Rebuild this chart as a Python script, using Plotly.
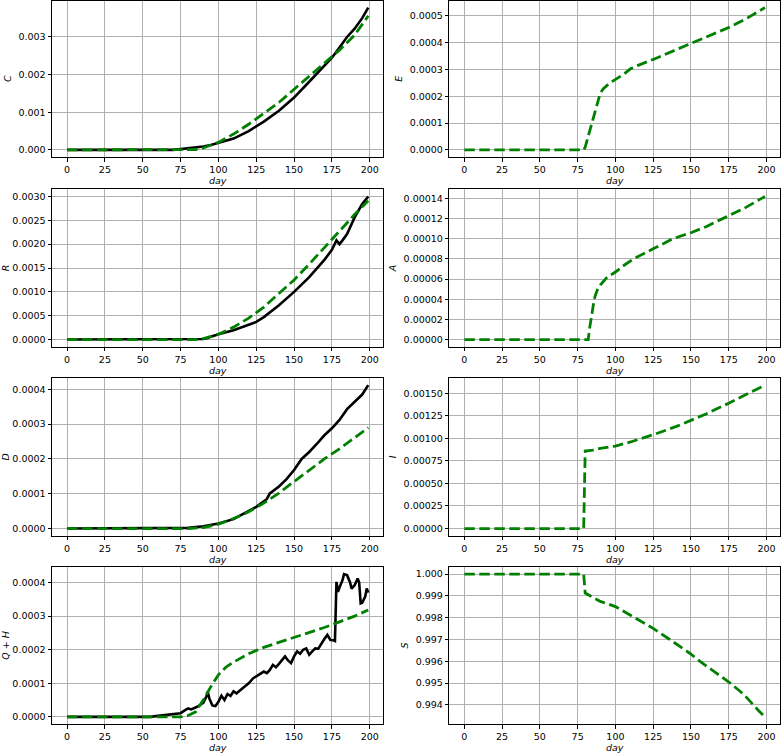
import plotly.graph_objects as go
from plotly.subplots import make_subplots

# ---------------- data ----------------
C_black_days = [0, 70, 75, 80, 85, 90, 95, 100, 110, 120, 130, 140, 150, 160, 170, 175, 180, 185, 190, 195, 199]
C_black = [0, 0, 0.00002, 0.00004, 0.00006, 0.00009, 0.00013, 0.00018, 0.0003, 0.0005, 0.00075, 0.00104,
           0.00139, 0.00181, 0.00225, 0.00245, 0.00272, 0.003, 0.00322, 0.0035, 0.00378]
C_green_days = [0, 80, 85, 90, 95, 100, 110, 120, 130, 140, 150, 160, 170, 180, 190, 199]
C_green = [0, 0, 0.00001, 0.00005, 0.00012, 0.0002, 0.00042, 0.00068, 0.00097, 0.00126, 0.00161, 0.00195,
           0.00229, 0.00265, 0.00305, 0.00356]

R_black_days = [0, 85, 90, 93, 95, 100, 110, 120, 125, 130, 140, 150, 160, 170, 175, 178, 180, 182, 185, 190, 195, 199]
R_black = [0, 0.000005, 0.00001, 0.00003, 0.00006, 0.00011, 0.000195, 0.00031, 0.00037, 0.00047, 0.00072, 0.001,
           0.00131, 0.00167, 0.00188, 0.00208, 0.002, 0.00208, 0.00221, 0.00256, 0.00284, 0.003]
R_green_days = [0, 85, 90, 95, 100, 110, 120, 130, 140, 150, 160, 170, 180, 190, 199]
R_green = [0, 0, 0.00002, 0.00006, 0.00011, 0.00026, 0.00045, 0.00068, 0.00096, 0.00125, 0.00158, 0.00193,
           0.00229, 0.00262, 0.00291]

D_black_days = [0, 75, 80, 90, 100, 110, 120, 125, 130, 132, 134, 136, 140, 145, 150, 155, 160, 165, 170, 175,
                180, 185, 190, 195, 199]
D_black = [0, 0, 0.000002, 0.0000067, 0.0000144, 0.000027, 0.000049, 0.0000623, 0.000078, 0.000085, 0.000101,
           0.000108, 0.000121, 0.000142, 0.000168, 0.0002, 0.00022, 0.000243, 0.000268, 0.000288, 0.000312,
           0.000343, 0.000364, 0.000385, 0.000412]
D_green_days = [0, 80, 90, 100, 110, 120, 130, 140, 150, 160, 170, 180, 190, 199]
D_green = [0, 0, 0.000003, 0.0000125, 0.000029, 0.000048, 0.000073, 0.000102, 0.000135, 0.000168, 0.0002,
           0.000229, 0.000262, 0.00029]

QH_black_days = [0, 55, 60, 65, 70, 73, 75, 78, 80, 82, 84, 86, 88, 90, 92, 93, 94, 96, 98, 100, 102, 104, 106,
                 108, 110, 112, 114, 116, 118, 120, 123, 125, 128, 130, 132, 134, 136, 138, 140, 142, 144, 146,
                 148, 150, 152, 154, 156, 158, 160, 162, 164, 166, 168, 170, 172, 174, 176, 177, 178, 179, 180,
                 181, 182, 183, 185, 187, 188, 190, 192, 193, 194, 195, 197, 198, 199]
QH_black = [0, 0, 0.000003, 0.000006, 0.00001, 0.000012, 0.000011, 0.00002, 0.000025, 0.000022, 0.000025,
            0.00003, 0.000036, 0.000042, 0.00006, 0.000074, 0.000055, 0.000034, 0.000032, 0.000045, 0.000063,
            0.00005, 0.000068, 0.000062, 0.000076, 0.00007, 0.000078, 0.000085, 0.000092, 0.0001, 0.000115,
            0.00012, 0.000128, 0.000135, 0.00013, 0.00014, 0.000155, 0.000148, 0.000158, 0.00017, 0.00018,
            0.000168, 0.00016, 0.00018, 0.000195, 0.000188, 0.0002, 0.000204, 0.000185, 0.000195, 0.000204,
            0.000203, 0.000219, 0.000232, 0.000244, 0.000229, 0.000228, 0.000226, 0.000402, 0.000372, 0.000385,
            0.000395, 0.000407, 0.000425, 0.000422, 0.0004, 0.000382, 0.000392, 0.000412, 0.0004, 0.000338,
            0.00034, 0.000358, 0.000382, 0.00037]
QH_green_days = [0, 75, 80, 85, 90, 95, 100, 105, 110, 120, 130, 140, 150, 160, 170, 180, 190, 199]
QH_green = [0, 0, 0.000004, 0.000015, 0.00005, 0.00009, 0.000125, 0.000148, 0.000163, 0.000188, 0.000207,
            0.000222, 0.000236, 0.00025, 0.000266, 0.000283, 0.0003, 0.000318]

E_green_days = [0, 79, 80, 81, 82, 83, 84, 85, 86, 87, 88, 89, 90, 92, 94, 96, 98, 100, 105, 110, 115, 125, 137,
                150, 162, 175, 187, 199]
E_green = [0, 0, 0.00001, 0.00003, 0.00005, 0.00008, 0.0001, 0.00012, 0.00014, 0.00016, 0.00018, 0.000197,
           0.000212, 0.000228, 0.000239, 0.000248, 0.000255, 0.000262, 0.00028, 0.000302, 0.000315, 0.000337,
           0.000365, 0.000397, 0.000425, 0.000456, 0.00049, 0.00053]

A_green_days = [0, 82, 83, 84, 85, 86, 87, 88, 90, 92, 94, 97, 100, 106, 112, 125, 138, 150, 160, 171, 185, 199]
A_green = [0, 0, 0.000012, 0.000023, 0.000032, 0.00004, 0.000045, 0.000049, 0.000054, 0.000058, 0.000061,
           0.000064, 0.000067, 0.000074, 0.00008, 0.00009, 0.0001, 0.000106, 0.000112, 0.00012, 0.00013, 0.000142]

I_green_days = [0, 79, 80, 85, 90, 100, 110, 125, 140, 150, 160, 175, 190, 199]
I_green = [0, 0, 0.00086, 0.00087, 0.00089, 0.000915, 0.00096, 0.00104, 0.00113, 0.0012, 0.00127, 0.00139,
           0.00152, 0.00159]

S_green_days = [0, 79, 80, 82, 90, 100, 113, 125, 136, 150, 156, 165, 176, 185, 191, 195, 199]
S_green = [1.0, 1.0, 0.99913, 0.99905, 0.99875, 0.99851, 0.998, 0.99751, 0.997, 0.99633, 0.996, 0.99555,
           0.995, 0.99448, 0.994, 0.99372, 0.99345]

# ---------------- figure ----------------
FONT = "DejaVu Sans"
GREEN = "#008000"

panels = [
    # row, col, ylabel, black (days, vals) or None, green (days, vals), tickformat, dtick
    (1, 1, "<i>C</i>", (C_black_days, C_black), (C_green_days, C_green), ".3f", 0.001),
    (2, 1, "<i>R</i>", (R_black_days, R_black), (R_green_days, R_green), ".4f", 0.0005),
    (3, 1, "<i>D</i>", (D_black_days, D_black), (D_green_days, D_green), ".4f", 0.0001),
    (4, 1, "<i>Q</i> + <i>H</i>", (QH_black_days, QH_black), (QH_green_days, QH_green), ".4f", 0.0001),
    (1, 2, "<i>E</i>", None, (E_green_days, E_green), ".4f", 0.0001),
    (2, 2, "<i>A</i>", None, (A_green_days, A_green), ".5f", 0.00002),
    (3, 2, "<i>I</i>", None, (I_green_days, I_green), ".5f", 0.00025),
    (4, 2, "<i>S</i>", None, (S_green_days, S_green), ".3f", 0.001),
]

fig = make_subplots(rows=4, cols=2)

W, H = 782, 753
ML, MR, MT, MB = 52, 2, 0, 29
PW, PH = W - ML - MR, H - MT - MB
col_px = {1: (52, 383.3), 2: (449.3, 780)}
row_px = {1: (0.5, 157), 2: (189.3, 346.7), 3: (378, 535.7), 4: (567, 724)}

for (r, c, ylab, blk, grn, tf, dt) in panels:
    vals = list(grn[1]) + (list(blk[1]) if blk else [])
    days = list(grn[0]) + (list(blk[0]) if blk else [])
    lo, hi = min(vals), max(vals)
    pad = 0.05 * (hi - lo)
    dlo, dhi = min(days), max(days)
    dpad = 0.05 * (dhi - dlo)
    if blk:
        fig.add_trace(go.Scatter(x=blk[0], y=blk[1], mode="lines",
                                 line=dict(color="black", width=2.6)), row=r, col=c)
    fig.add_trace(go.Scatter(x=grn[0], y=grn[1], mode="lines",
                             line=dict(color=GREEN, width=2.8, dash="10.5px,4.5px")), row=r, col=c)
    x0, x1 = col_px[c]
    y0, y1 = row_px[r]
    axis_common = dict(showline=True, mirror=True, linecolor="black", linewidth=1,
                       showgrid=True, gridcolor="#b0b0b0", gridwidth=0.8, zeroline=False,
                       ticks="outside", ticklen=3.5, tickwidth=0.8, tickcolor="black",
                       automargin=False,
                       tickfont=dict(family=FONT, size=9.5, color="black"))
    fig.update_xaxes(domain=[(x0 - ML) / PW, min(1, (x1 - ML) / PW)],
                     range=[dlo - dpad, dhi + dpad], tick0=0, dtick=25,
                     title=dict(text="<i>day</i>", font=dict(family=FONT, size=9.5, color="black"), standoff=3),
                     **axis_common, row=r, col=c)
    fig.update_yaxes(domain=[max(0, 1 - (y1 - MT) / PH), 1 - (y0 - MT) / PH],
                     range=[lo - pad, hi + pad], tickformat=tf, tick0=0, dtick=dt,
                     title=dict(text=ylab, font=dict(family=FONT, size=9.5, color="black"), standoff=5),
                     **axis_common, row=r, col=c)

fig.update_layout(template="none", width=W, height=H, margin=dict(l=ML, r=MR, t=MT, b=MB),
                  paper_bgcolor="white", plot_bgcolor="white", showlegend=False,
                  font=dict(family=FONT, size=9.5, color="black"))

fig.write_html("out.html", config={"displayModeBar": False},
               post_script="document.body.style.margin='0';document.body.style.overflow='hidden';")
